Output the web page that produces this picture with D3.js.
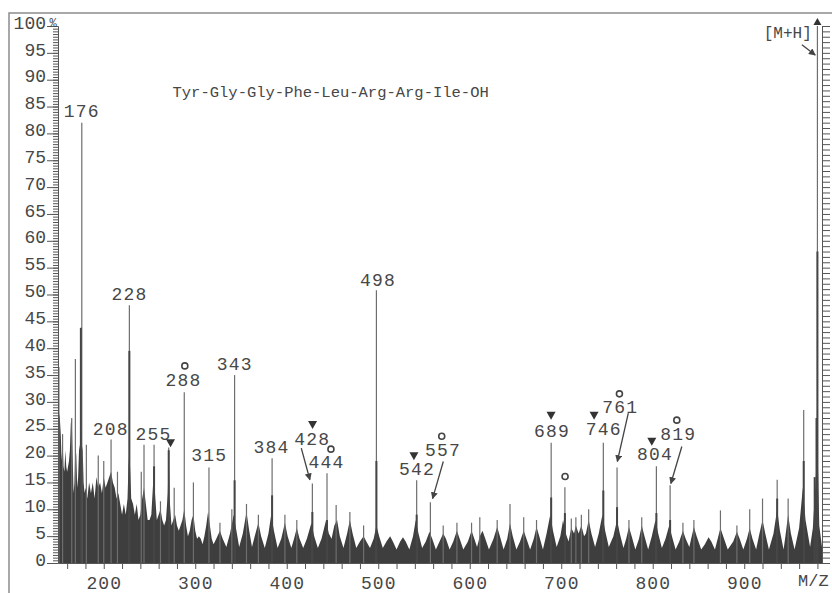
<!DOCTYPE html>
<html>
<head>
<meta charset="utf-8">
<script src="https://cdn.jsdelivr.net/npm/d3@7"></script>
<style>
  body { margin: 0; background: #fff; }
  svg { display: block; }
  text { font-family: "Liberation Mono", "DejaVu Sans Mono", monospace; fill: #474747; }
</style>
</head>
<body>
<div id="chart"></div>
<script>
// Mass spectrum of Tyr-Gly-Gly-Phe-Leu-Arg-Arg-Ile-OH (m/z, % relative intensity)

// dense low-level signal (top of the dark filled region)
const envelope = [
  [150,27],[151,28],[152,27],[153,24],[154,19],[155,23],[156,18],[157,17],[158,21],[159,18],[160,17],
  [162,19],[163,21],[164,26],[165,27],[166,20],[167,13],[168,15],[169,22],[170,20],[171,14],[172,16],
  [173,21],[174,22],[175,26],[176,22],[177,21],[178,15],[179,13],[180,14],[182,12],[184,15],[186,13],
  [188,15],[190,12],[192,16],[194,14],[196,15],[198,13],[200,16],[202,14],[204,15],[206,16],[208,17],
  [210,15],[212,14],[214,12],[216,13],[218,11],[220,9],[222,11],[224,9],[226,12],[227,18],[228,21],
  [229,17],[230,12],[232,11],[234,9],[236,11],[238,8],[240,9],[242,12],[244,14],[246,11],[248,8],
  [250,8],[252,9],[254,15],[255,18],[256,13],[258,8],[260,9],[262,10],[264,8],[266,7],[268,8],
  [270,13],[271,21],[272,12],[274,7],[276,8],[278,9],[280,7],[282,6],[284,7],[286,8],[288,10],
  [290,7],[292,5],[294,6],[296,8],[298,9],[300,6],[302,4.5],[304,5],[306,4.5],[308,3.5],[310,5],[312,7],
  [314,9.5],[316,7],[318,4.5],[320,3.5],[323,4.5],[327,6],[330,4.5],[334,3],[338,5.5],[342,9],[345,6],
  [348,3],[352,5.5],[356,9.5],[359,6],[362,3],[365,5],[369,7.5],[372,5],[376,2.8],[380,5.5],[383,9],
  [386,6],[390,2.8],[394,4.5],[398,7.5],[401,5],[405,2.8],[408,4.5],[411,6.5],[414,4.5],[418,2.8],
  [422,4.5],[427,7.5],[430,5],[434,2.8],[438,4.5],[443,8],[446,5.5],[449,4.5],[452,7],[455,8],[458,5],
  [462,2.8],[466,5.5],[469,8],[472,5.5],[476,2.8],[480,4],[484,5],[487,4],[491,2.8],[495,4.5],[498,7],
  [501,5],[505,2.8],[509,4],[513,5],[516,4],[520,2.5],[524,4],[527,4.8],[530,4],[534,2.5],[538,5],
  [541,8],[544,5.5],[548,2.8],[552,4],[556,5.8],[559,4.5],[563,2.5],[567,4],[571,5.5],[574,4.5],
  [578,2.5],[582,4],[586,6],[589,4.5],[593,2.5],[598,4],[602,6],[605,4.5],[608,3],[611,5],[614,6],
  [617,4.5],[621,2.5],[626,4.5],[630,6.7],[633,5],[637,2.5],[641,4.5],[644,7.4],[647,5],[651,2.5],
  [655,4],[659,6],[662,4.5],[666,2.5],[670,4.5],[673,6.7],[676,5],[680,2.5],[684,5.5],[688,9],[691,6],
  [695,3],[699,5],[702,8],[705,5.5],[708,4],[711,6.5],[714,5.5],[716,7],[719,5.5],[722,7],[725,5],
  [727,5.5],[730,8],[733,5.5],[737,3],[741,5.5],[745,9],[748,6],[752,3],[757,5],[761,8],[764,5.5],
  [768,2.8],[771,4.5],[774,6.7],[777,5],[781,2.5],[785,4.5],[788,7],[791,5],[795,2.5],[799,5],[803,8],
  [806,5.5],[810,2.8],[814,4.5],[818,7],[821,5],[825,2.5],[829,4],[833,6],[836,4.5],[840,3],[842,4.5],
  [845,6.7],[848,5],[853,2.5],[857,3.5],[861,4.8],[864,4],[868,2.5],[871,4.5],[874,6.5],[877,5],
  [882,2.5],[888,4],[892,5.8],[895,4.5],[899,2.5],[903,4.5],[906,6.5],[909,4.5],[913,2.5],[916,5],
  [920,8],[923,5.5],[927,2.5],[932,5.5],[936,10],[939,6],[943,2.5],[945,5],[948,9],[951,5.5],[955,2.5],
  [960,6.5],[964,14],[967,8],[972,3],[975,6.5],[978,15],[980,23],[982,7],[985,3]
];

// sharp single peaks (thin lines)
const sticks = [
  [151,36.5],[155,24],[165,27],[169,38],[176,82],[181,22],[194,20],[200,19],[208,23],[215,17],
  [228,48],[241,17],[244,22],[255,22],[262,11.5],[271,21.5],[277,14],[288,31.8],[298,15],[315,17.8],
  [327,7.5],[340,10],[343,35],[356,11],[369,9],[384,19.5],[398,9],[411,8],[428,14.8],[444,16.7],
  [454,10.8],[469,9.5],[484,7],[498,50.8],[542,15.4],[557,11.3],[571,7],[586,7.5],[602,7.5],
  [611,8.5],[630,8],[644,11],[659,8.5],[673,8],[689,22.4],[704,14.1],[711,8.3],[716,8.5],[722,9],
  [730,10],[746,22.4],[761,17.8],[774,8],[788,8.5],[804,18],[819,14.5],[833,7.5],[845,8],[874,9.8],
  [892,7],[906,10],[920,12],[936,15.5],[948,12],[965,28.5],[980,100]
];

// heavier lower parts of the main peaks
const coreSticks = [
  [175,43.8],[228,39.5],[255,18],[271,21],[343,15.4],[384,12.6],[428,9.5],[444,8],[498,19],
  [542,9],[689,12.2],[704,9.3],[746,13.5],[761,10.4],[804,9.3],[819,8],[936,12],[965,19],
  [977,16],[979,27],[980,58]
];

// peak labels: text, m/z, height of label centre (%)
const labelText = ['176','228','208','255','288','315','343','384','428','444','498','542','557','689','746','761','804','819'];
const labelMz   = [175.9,228.1,207.7,254.5,287.2,315.2,343.3,383.4,427.8,443.5,499.7,542.3,570.8,690,746.5,764.4,802.6,827.8];
const labelPct  = [84.0,49.8,24.8,23.8,33.8,19.8,36.9,21.4,22.9,18.6,52.5,17.2,20.9,24.4,24.8,28.8,20.1,23.8];

// fragment markers
const triangles = [[273,22.3],[428.2,25.7],[539,19.9],[688.9,27.4],[735.9,27.4],[799,22.6]];
const circles   = [[288.6,36.7],[448.3,21.2],[569.4,23.6],[704.2,16.1],[763.6,31.5],[826.3,26.6]];
const arrows    = [
  [[415.9,21.4],[425.3,15.5]],
  [[571.1,18.9],[559.4,12.0]],
  [[773.3,27.9],[761.3,18.9]],
  [[831.8,21.7],[819.8,14.8]],
  [[963,96.5],[977.6,94.6]]
];

const yTicks = d3.range(0, 101, 5);
const xTicks = d3.range(160, 981, 20);

const width = 832, height = 593;

const svg = d3.select('#chart').append('svg')
  .attr('width', width)
  .attr('height', height);

const x = d3.scaleLinear().domain([150, 985]).range([58, 822]);
const y = d3.scaleLinear().domain([0, 100]).range([563, 26]);

svg.append('defs').append('marker')
  .attr('id', 'head')
  .attr('viewBox', '0 0 10 10')
  .attr('refX', 9).attr('refY', 5)
  .attr('markerWidth', 7).attr('markerHeight', 7)
  .attr('markerUnits', 'userSpaceOnUse')
  .attr('orient', 'auto')
  .append('path')
  .attr('d', 'M0,0L10,5L0,10Z')
  .attr('fill', '#444');

// outer frame (scan border)
svg.append('path')
  .attr('d', `M9,${height}V13H${width}`)
  .attr('fill', 'none')
  .attr('stroke', '#8c8c8c')
  .attr('stroke-width', 1.5);

// dark filled signal
svg.append('path')
  .datum(envelope)
  .attr('fill', '#3e3e3e')
  .attr('d', d3.area().x(d => x(d[0])).y0(y(0)).y1(d => y(d[1])));

svg.selectAll('.stick')
  .data(sticks)
  .enter().append('line')
  .attr('class', 'stick')
  .attr('x1', d => x(d[0])).attr('x2', d => x(d[0]))
  .attr('y1', y(0)).attr('y2', d => y(d[1]))
  .attr('stroke', '#6e6e6e')
  .attr('stroke-width', 1.2);

svg.selectAll('.core')
  .data(coreSticks)
  .enter().append('line')
  .attr('class', 'core')
  .attr('x1', d => x(d[0])).attr('x2', d => x(d[0]))
  .attr('y1', y(0)).attr('y2', d => y(d[1]))
  .attr('stroke', '#454545')
  .attr('stroke-width', 2);

// left axis: labelled ticks + ruler
const left = svg.append('g')
  .attr('transform', 'translate(58,0)')
  .call(d3.axisLeft(y).tickValues(yTicks).tickSize(11).tickSizeOuter(0).tickPadding(1)
    .tickFormat(d => d));
left.selectAll('text')
  .attr('dy', '0.12em')
  .style('font-size', '18px');

svg.append('g')
  .attr('transform', 'translate(58,0)')
  .call(d3.axisLeft(y).tickValues(d3.range(0, 100.1, 0.5)).tickSize(5).tickSizeOuter(0).tickFormat(''));

svg.append('text')
  .attr('x', 53).attr('y', 27)
  .style('font-size', '12px')
  .attr('text-anchor', 'middle')
  .text('%');

// right ruler
svg.append('g')
  .attr('transform', 'translate(822,0)')
  .call(d3.axisRight(y).tickValues(d3.range(0, 101, 1)).tickSize(8).tickSizeOuter(0).tickFormat(''));

// bottom axis
const bottom = svg.append('g')
  .attr('transform', `translate(0,${y(0)})`)
  .call(d3.axisBottom(x).tickValues(xTicks).tickSize(6).tickSizeOuter(0).tickPadding(7)
    .tickFormat(d => d % 100 === 0 ? d : ''));
bottom.selectAll('text')
  .style('font-size', '18px')
  .style('letter-spacing', '1px');

svg.selectAll('.domain, .tick line')
  .attr('stroke', '#555');

svg.append('text')
  .attr('x', 798).attr('y', 582)
  .attr('dominant-baseline', 'middle')
  .style('font-size', '17px')
  .text('M/Z');

// title
svg.append('text')
  .attr('x', x(448)).attr('y', y(87.6))
  .attr('text-anchor', 'middle')
  .attr('dominant-baseline', 'middle')
  .style('font-size', '15.5px')
  .text('Tyr-Gly-Gly-Phe-Leu-Arg-Arg-Ile-OH');

// peak labels
svg.selectAll('.plabel')
  .data(labelText)
  .enter().append('text')
  .attr('class', 'plabel')
  .attr('x', (d, i) => x(labelMz[i]))
  .attr('y', (d, i) => y(labelPct[i]))
  .attr('text-anchor', 'middle')
  .attr('dominant-baseline', 'middle')
  .style('font-size', '18px')
  .style('letter-spacing', '1.2px')
  .text(d => d);

svg.append('text')
  .attr('x', x(947.6)).attr('y', y(98.5))
  .attr('text-anchor', 'middle')
  .attr('dominant-baseline', 'middle')
  .style('font-size', '16px')
  .text('[M+H]');

svg.selectAll('.tri')
  .data(triangles)
  .enter().append('path')
  .attr('class', 'tri')
  .attr('transform', d => `translate(${x(d[0])},${y(d[1])})`)
  .attr('d', 'M-4.5,-4L4.5,-4L0,4Z')
  .attr('fill', '#333');

svg.selectAll('.circ')
  .data(circles)
  .enter().append('circle')
  .attr('class', 'circ')
  .attr('cx', d => x(d[0])).attr('cy', d => y(d[1]))
  .attr('r', 3)
  .attr('fill', 'none')
  .attr('stroke', '#444')
  .attr('stroke-width', 1.6);

svg.selectAll('.arrow')
  .data(arrows)
  .enter().append('line')
  .attr('class', 'arrow')
  .attr('x1', d => x(d[0][0])).attr('y1', d => y(d[0][1]))
  .attr('x2', d => x(d[1][0])).attr('y2', d => y(d[1][1]))
  .attr('stroke', '#444')
  .attr('stroke-width', 1.3)
  .attr('marker-end', 'url(#head)');

// off-scale mark on top of [M+H]
svg.append('path')
  .attr('transform', `translate(${x(980)},${y(100) - 3})`)
  .attr('d', 'M0,-5L4,2L-4,2Z')
  .attr('fill', '#333');
</script>
</body>
</html>
